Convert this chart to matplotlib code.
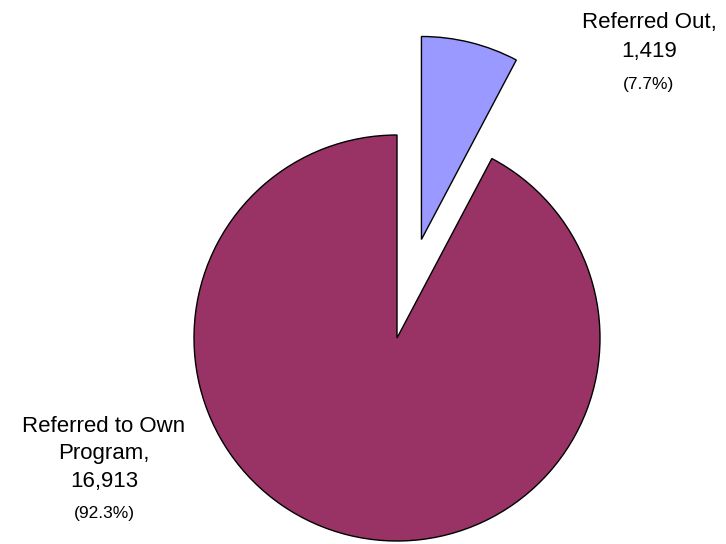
import matplotlib.pyplot as plt

plt.rcParams['font.family'] = ['Liberation Sans', 'DejaVu Sans']

# referral outcomes
categories = ['Referred Out', 'Referred to Own Program']
counts = [1419, 16913]
percents = [7.7, 92.3]
colors = ['#9999FF', '#993366']

R = 203
fig = plt.figure(figsize=(7.26, 5.44), dpi=100, facecolor='white')
ax = fig.add_axes([0, 0, 1, 1])

# explode is in data units here, so scale it by the radius
ax.pie(counts, colors=colors, startangle=90, counterclock=False,
       explode=[0.5 * R, 0], center=(397, 206), radius=R,
       wedgeprops=dict(edgecolor='black', linewidth=1.0), frame=True)
ax.set_xlim(0, 726)
ax.set_ylim(0, 544)
ax.set_aspect('equal')
ax.axis('off')

def label(x, ytop, lines, pct, pitch=28.5, pct_gap=33):
    # each line drawn on its own baseline, y measured from the top
    y = ytop
    for s in lines:
        ax.text(x, 544 - y, s, ha='center', va='baseline', fontsize=16)
        y += pitch
    ax.text(x, 544 - (y - pitch + pct_gap), '(%.1f%%)' % pct,
            ha='center', va='baseline', fontsize=12.5)

label(649, 28, ['Referred Out,', '{:,}'.format(counts[0])], percents[0])
label(104, 432, ['Referred to Own', 'Program,', '{:,}'.format(counts[1])], percents[1],
      pitch=27.5, pct_gap=31)

fig.savefig('out.png', dpi=100, facecolor='white')
